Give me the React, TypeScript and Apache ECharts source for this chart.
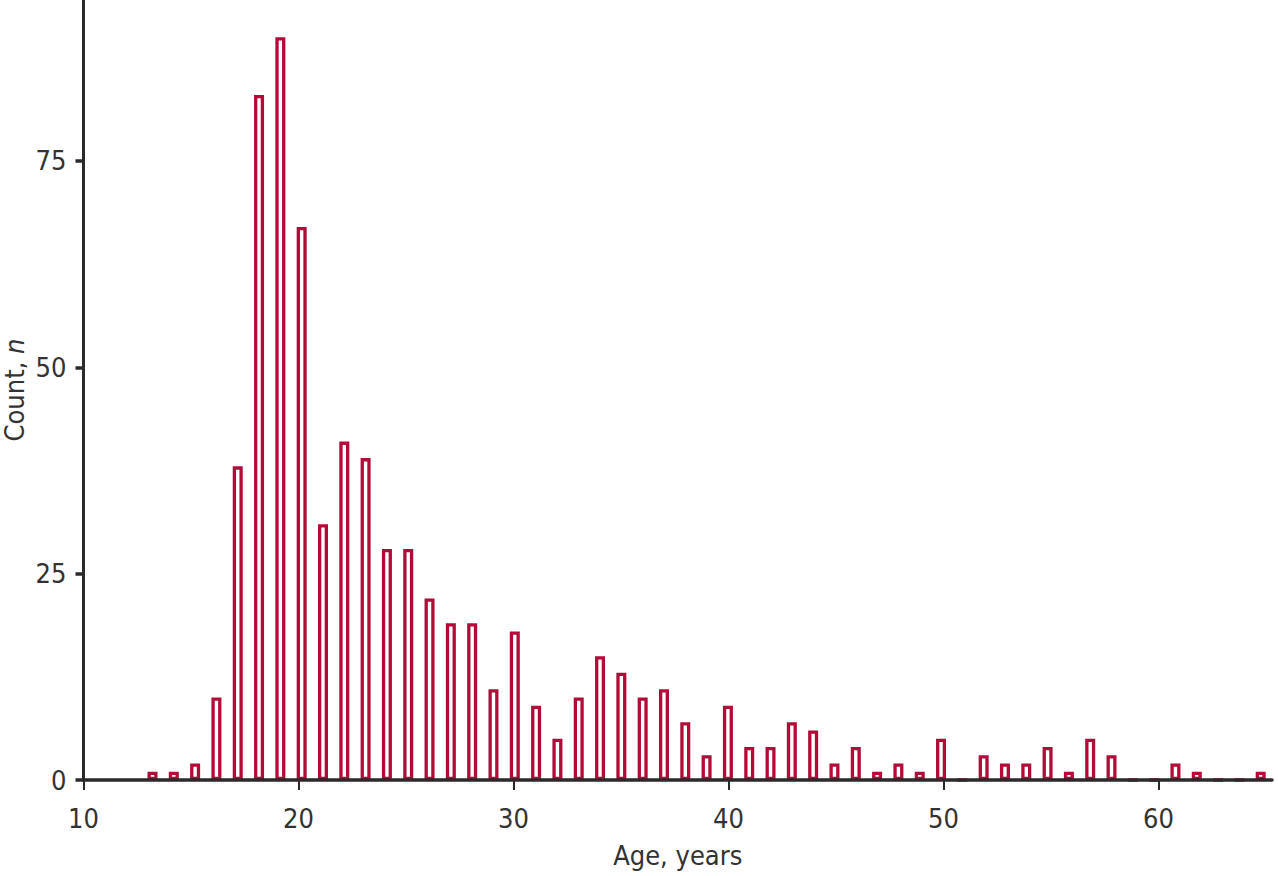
import React, { useEffect, useRef } from "react";
import * as echarts from "echarts";

// Histogram bins (age labels) and counts
const binLabels = [
  "13", "14", "15", "16", "17", "18", "19", "20", "21", "22", "23", "24", "25",
  "26", "27", "28", "29", "30", "31", "32", "33", "34", "35", "36", "37", "38",
  "39", "40", "41", "42", "43", "44", "45", "46", "47", "48", "49", "50", "51",
  "52", "53", "54", "55", "56", "57", "58", "59", "60", "61", "62", "63", "64", "65",
];
const counts = [
  1, 1, 2, 10, 38, 83, 90, 67, 31, 41, 39, 28, 28,
  22, 19, 19, 11, 18, 9, 5, 10, 15, 13, 10, 11, 7,
  3, 9, 4, 4, 7, 6, 2, 4, 1, 2, 1, 5, 0,
  3, 2, 2, 4, 1, 5, 3, 0, 0, 2, 1, 0, 0, 1,
];
const xTicks = [10, 20, 30, 40, 50, 60];
const yTicks = [0, 25, 50, 75];

export default function App() {
  const ref = useRef<HTMLDivElement>(null);
  useEffect(() => {
    if (!ref.current) return;
    const chart = echarts.init(ref.current, null, { renderer: "svg" });
    const font = '"Liberation Sans Narrow", "DejaVu Sans Condensed", Roboto, sans-serif';
    const axisColor = "#2a2a2a";
    const textColor = "#333333";
    const fs = 27;
    chart.setOption({
      animation: false,
      backgroundColor: "#ffffff",
      grid: [
        { left: 83.5, top: 0, width: 1188.5, height: 780, outerBoundsMode: "none", containLabel: false },
        { left: 141.84, top: 0, width: 1129.52, height: 780, outerBoundsMode: "none", containLabel: false },
      ],
      xAxis: [
        {
          type: "value",
          gridIndex: 0,
          min: 10,
          max: 65.28,
          interval: 10,
          z: 5,
          axisLine: { show: true, onZero: false, lineStyle: { color: axisColor, width: 3.5 } },
          axisTick: { show: true, customValues: xTicks, length: 10, lineStyle: { color: axisColor, width: 2 } },
          axisLabel: { customValues: xTicks, margin: 25, fontSize: fs, color: textColor, fontFamily: font },
          splitLine: { show: false },
          name: "Age, years",
          nameLocation: "middle",
          nameGap: 62,
          nameMoveOverlap: false,
          nameTextStyle: { fontSize: fs, color: textColor, fontFamily: font },
        },
        { type: "category", gridIndex: 1, data: binLabels, show: false },
      ],
      yAxis: [
        {
          type: "value",
          gridIndex: 0,
          min: 0,
          max: 94.5,
          interval: 25,
          z: 5,
          axisLine: { show: true, onZero: false, lineStyle: { color: axisColor, width: 3 } },
          axisTick: { show: true, customValues: yTicks, length: 8, lineStyle: { color: axisColor, width: 3.5 } },
          axisLabel: { customValues: yTicks, margin: 17, fontSize: fs, color: textColor, fontFamily: font },
          splitLine: { show: false },
          name: "Count, {i|n}",
          nameLocation: "middle",
          nameGap: 56,
          nameRotate: 90,
          nameMoveOverlap: false,
          nameTextStyle: {
            fontSize: fs,
            color: textColor,
            fontFamily: font,
            rich: { i: { fontSize: fs, fontStyle: "italic", color: textColor, fontFamily: font } },
          },
        },
        { type: "value", gridIndex: 1, min: 0, max: 94.5, show: false },
      ],
      series: [
        {
          type: "bar",
          xAxisIndex: 1,
          yAxisIndex: 1,
          data: counts,
          barWidth: 10,
          itemStyle: { color: "#ffffff", borderColor: "#B30A38", borderWidth: 3.3 },
        },
      ],
    });
    return () => chart.dispose();
  }, []);
  return (
    <div
      ref={ref}
      style={{ position: "fixed", left: 0, top: 0, width: 1278, height: 876 }}
    />
  );
}
